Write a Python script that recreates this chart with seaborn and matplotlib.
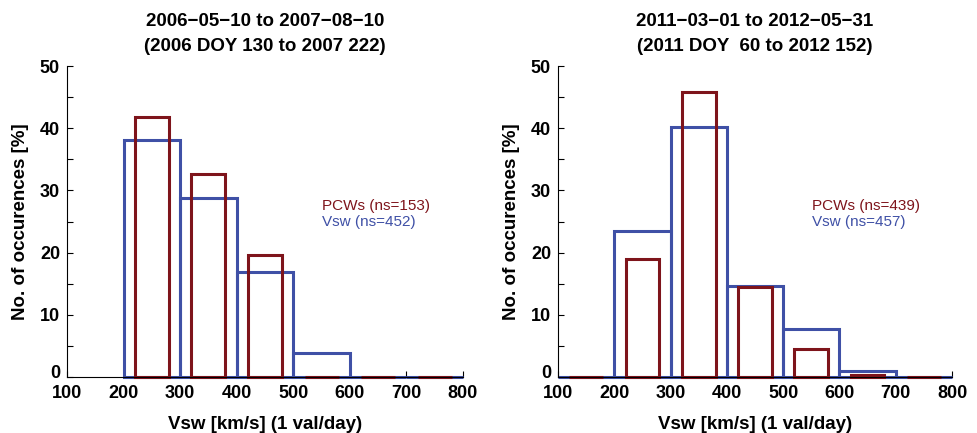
import numpy as np
import pandas as pd
import matplotlib
matplotlib.use("Agg")
import matplotlib.pyplot as plt
import matplotlib.transforms as mtransforms
import seaborn as sns
from matplotlib.ticker import MultipleLocator

# ---- data ----
titles = ["2006\u221205\u221210 to 2007\u221208\u221210\n(2006 DOY 130 to 2007 222)",
          "2011\u221203\u221201 to 2012\u221205\u221231\n(2011 DOY  60 to 2012 152)"]
# left panel
left_vsw_edges = [200, 300, 400, 500, 600, 700, 800]
left_vsw_vals = [38.1, 28.8, 16.9, 3.8, 0.0, 0.0]
left_pcw_edges = [200, 300, 400, 500, 600, 700, 800]
left_pcw_vals = [41.8, 32.6, 19.6, 0.0, 0.0, 0.0]
left_labels = ["PCWs (ns=153)", "Vsw (ns=452)"]
# right panel
right_vsw_edges = [100, 200, 300, 400, 500, 600, 700, 800]
right_vsw_vals = [0.0, 23.4, 40.2, 14.7, 7.7, 1.0, 0.0]
right_pcw_edges = [100, 200, 300, 400, 500, 600, 700, 800]
right_pcw_vals = [0.0, 18.9, 45.8, 14.4, 4.5, 0.3, 0.0]
right_labels = ["PCWs (ns=439)", "Vsw (ns=457)"]

xticks = [100, 200, 300, 400, 500, 600, 700, 800]
yticks = [0, 10, 20, 30, 40, 50]

BLUE = "#3f50a6"
RED = "#7e141b"

sns.set_style("ticks")
plt.rcParams['font.family'] = ['Liberation Sans', 'DejaVu Sans']
plt.rcParams['xtick.direction'] = 'in'
plt.rcParams['ytick.direction'] = 'in'
for k in ['text.color', 'axes.labelcolor', 'xtick.color', 'ytick.color', 'axes.edgecolor']:
    plt.rcParams[k] = 'black'

fig = plt.figure(figsize=(9.78, 4.33), dpi=100)
ax1 = fig.add_axes([67/978, 56/433, 396/978, 311/433])
ax2 = fig.add_axes([558/978, 56/433, 394/978, 311/433])

panels = [
    (ax1, left_vsw_edges, left_vsw_vals, left_pcw_edges, left_pcw_vals, left_labels, titles[0]),
    (ax2, right_vsw_edges, right_vsw_vals, right_pcw_edges, right_pcw_vals, right_labels, titles[1]),
]

for ax, ve, vv, pe, pv, labs, ttl in panels:
    vc = [(a + b) / 2 for a, b in zip(ve[:-1], ve[1:])]
    pc = [(a + b) / 2 for a, b in zip(pe[:-1], pe[1:])]
    dfv = pd.DataFrame({"x": vc, "w": vv})
    dfp = pd.DataFrame({"x": pc, "w": pv})
    sns.histplot(data=dfv, x="x", weights="w", bins=ve, fill=False, element="bars",
                 color=BLUE, edgecolor=BLUE, linewidth=2.2, ax=ax)
    sns.histplot(data=dfp, x="x", weights="w", bins=pe, fill=False, element="bars",
                 shrink=0.6, color=RED, edgecolor=RED, linewidth=2.2, ax=ax)
    for p in ax.patches:
        p.set_clip_on(False)
    ax.set_xlim(100, 800)
    ax.set_ylim(0, 50)
    ax.set_xticks(xticks)
    ax.set_yticks(yticks)
    ax.yaxis.set_minor_locator(MultipleLocator(5))
    ax.tick_params(axis='both', which='major', labelsize=13, length=4, width=0.8)
    ax.tick_params(axis='x', which='major', pad=6)
    ax.tick_params(axis='y', which='major', pad=5)
    ax.tick_params(axis='y', which='minor', length=4, width=0.8)
    for lab in ax.get_xticklabels() + ax.get_yticklabels():
        lab.set_fontweight('bold')
    # nudge the "0" y tick label slightly upward, as in the reference
    shift = mtransforms.ScaledTranslation(0, 4/72, fig.dpi_scale_trans)
    ylab0 = ax.yaxis.get_major_ticks()[0].label1
    ylab0.set_transform(ylab0.get_transform() + shift)
    sns.despine(ax=ax)
    ax.set_xlabel("Vsw [km/s] (1 val/day)", fontsize=13.5, fontweight='bold', labelpad=10)
    ax.set_ylabel("No. of occurences [%]", fontsize=13.5, fontweight='bold', labelpad=8)
    ax.set_title(ttl, fontsize=13.5, fontweight='bold', pad=11, linespacing=1.6)
    ax.text(551, 27.5, labs[0], color=RED, fontsize=11, va='center', ha='left')
    ax.text(551, 24.9, labs[1], color=BLUE, fontsize=11, va='center', ha='left')

fig.savefig("out.png", dpi=100)
